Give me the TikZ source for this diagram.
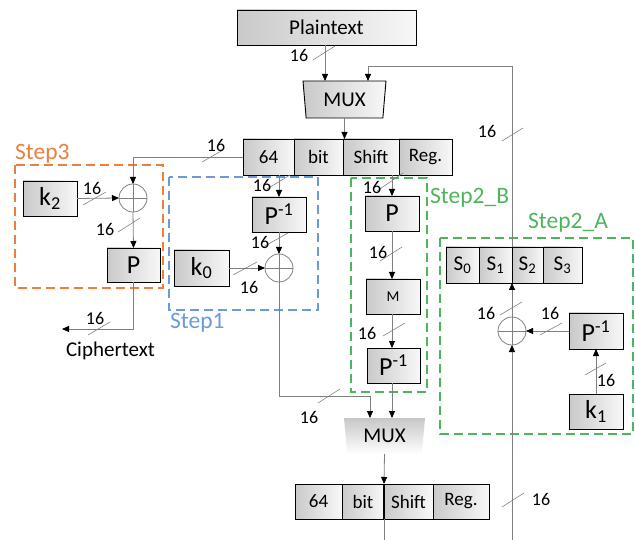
\documentclass[tikz,border=0pt]{standalone}
\usepackage{fontspec}
\setmainfont{Carlito}
\usetikzlibrary{arrows.meta,shapes.geometric}
\definecolor{stepor}{HTML}{E9803D}
\definecolor{stepbl}{HTML}{6A9BD8}
\definecolor{stepgr}{HTML}{4DB55A}
\begin{document}
\begin{tikzpicture}[x=1pt,y=-1pt,
  fs/.style={font=\fontsize{#1}{#1}\selectfont},
  blk/.style={draw=black, line width=0.9pt, left color=black!21, right color=black!3,
              inner sep=0pt, outer sep=0pt},
  cell/.style={blk, fs=19, minimum height=#1},
  wire/.style={draw=black!50, line width=0.8pt},
  arr/.style={wire, -{Triangle[length=7pt,width=6pt,color=black]}},
  tick/.style={draw=black!50, line width=0.6pt},
  num/.style={fs=18, inner sep=0pt},
  xorc/.style={circle, draw=black!50, line width=0.8pt, minimum size=28pt, inner sep=0pt,
    outer sep=0pt,
    path picture={\draw[black!50, line width=0.8pt]
      (path picture bounding box.north) -- (path picture bounding box.south)
      (path picture bounding box.west) -- (path picture bounding box.east);}},
  muxshape/.style={trapezium, trapezium left angle=77, trapezium right angle=77,
    shape border rotate=180, trapezium stretches body, inner sep=0pt, outer sep=0pt,
    fs=21},
  grp/.style={dash pattern=on 9pt off 5pt, line width=2.4pt},
  grplab/.style={fs=23.5, inner sep=0pt, anchor=west},
]
\useasboundingbox (0,0) rectangle (635,540);

% dashed groups of the three steps
\draw[grp, stepor] (15,165) rectangle (163,288);
\draw[grp, stepbl] (169,177) rectangle (318,310);
\draw[grp, stepgr] (351,178) rectangle (427,392);
\draw[grp, stepgr] (440,238) rectangle (633,434);
\node[grplab, text=stepor] (g3) at (15,154) {Step3};
\node[grplab, text=stepbl] (g1) at (170,323) {Step1};
\node[grplab, text=stepgr] (g2b) at (430,198) {Step2\_B};
\node[grplab, text=stepgr] (g2a) at (528,223) {Step2\_A};

% input and first register
\node[blk, fs=21, minimum width=179pt, minimum height=35pt] (plain) at (326.5,27.5) {Plaintext};
\node[muxshape, draw=black, line width=0.9pt, left color=black!21, right color=black!3,
      minimum width=83pt, minimum height=37pt] (mux1) at (344.5,99.5) {MUX};
\node[cell=36pt, minimum width=51pt] (r1a) at (268.5,157) {64};
\node[cell=36pt, minimum width=49pt] (r1b) at (318.5,157) {bit};
\node[cell=36pt, minimum width=56pt] (r1c) at (371,157) {Shift};
\node[cell=36pt, minimum width=53pt] (r1d) at (425.5,157) {Reg.};

% Step3
\node[blk, fs=26, minimum width=54pt, minimum height=35pt] (k2) at (50,198.5) {k\textsubscript{2}};
\node[xorc] (xor3) at (133,198) {};
\node[blk, fs=26, minimum width=53pt, minimum height=34pt] (p3) at (133.5,265) {P};
\coordinate (ctout) at (62,329);
\node[fs=21, inner sep=0pt] (ct) at (110.5,351) {Ciphertext};

% Step1
\node[blk, fs=26, minimum width=54pt, minimum height=35pt] (pi1) at (279,214.5) {P\textsuperscript{-1}};
\node[xorc] (xor1) at (279,268) {};
\node[blk, fs=26, minimum width=55pt, minimum height=36pt] (k0) at (201.5,268) {k\textsubscript{0}};

% Step2_B
\node[blk, fs=26, minimum width=54pt, minimum height=35pt] (pb) at (392,213.5) {P};
\node[blk, fs=15, minimum width=54pt, minimum height=35pt] (mm) at (393,296.5) {M};
\node[blk, fs=26, minimum width=53pt, minimum height=35pt] (pib) at (393.5,365.5) {P\textsuperscript{-1}};

% Step2_A
\node[cell=36pt, fs=21, minimum width=33pt] (s0) at (462.5,265) {S\textsubscript{0}};
\node[cell=36pt, fs=21, minimum width=33pt] (s1) at (495.5,265) {S\textsubscript{1}};
\node[cell=36pt, fs=21, minimum width=31pt] (s2) at (527.5,265) {S\textsubscript{2}};
\node[cell=36pt, fs=21, minimum width=39pt] (s3) at (562.5,265) {S\textsubscript{3}};
\node[xorc] (xor2) at (512,331) {};
\node[blk, fs=26, minimum width=54pt, minimum height=36pt] (pia) at (596,331) {P\textsuperscript{-1}};
\node[blk, fs=26, minimum width=54pt, minimum height=35pt] (k1) at (596,411.5) {k\textsubscript{1}};

% output multiplexer and second register
\node[muxshape, top color=black!22, bottom color=white,
      minimum width=81pt, minimum height=36pt] (mux2) at (384.5,436) {MUX};
\node[cell=35pt, minimum width=47pt] (r2a) at (318.5,501.5) {64};
\node[cell=35pt, minimum width=42pt] (r2b) at (363,501.5) {bit};
\node[cell=35pt, minimum width=49pt] (r2c) at (408.5,501.5) {Shift};
\node[cell=35pt, minimum width=56pt] (r2d) at (461,501.5) {Reg.};

% connection points
\coordinate (m1a) at (325,81);
\coordinate (m1b) at (368,81);
\coordinate (fbk) at (512,66);
\coordinate (bend) at (370,396);
\coordinate (m2a) at (370,418);
\coordinate (m2b) at (392,418);
\coordinate (bot1) at (384,540);
\coordinate (bot2) at (512,540);

% connectors
\draw[arr] (plain.south -| m1a) -- (m1a);
\draw[arr] (s1.north east) -- (fbk) -| (m1b);
\draw[arr] (mux1.south) -- (mux1.south |- r1b.north);
\draw[arr] (r1a.west) -| (xor3.north);
\draw[arr] (k2.east) -- (xor3.west);
\draw[arr] (xor3.south) -- (p3.north);
\draw[arr] (p3.south) |- (ctout);
\draw[arr] (pi1.north |- r1a.south) -- (pi1.north);
\draw[arr] (pi1.south) -- (xor1.north);
\draw[arr] (k0.east) -- (xor1.west);
\draw[arr] (xor1.south) |- (bend) -- (m2a);
\draw[arr] (pb.north |- r1c.south) -- (pb.north);
\draw[arr] (pb.south) -- (pb.south |- mm.north);
\draw[arr] (pb.south |- mm.south) -- (pb.south |- pib.north);
\draw[arr] (pb.south |- pib.south) -- (m2b);
\draw[arr] (bot2) -- (xor2.south);
\draw[arr] (xor2.north) -- (s1.south east);
\draw[arr] (pia.west) -- (xor2.east);
\draw[arr] (k1.north) -- (pia.south);
\draw[arr] (mux2.south) -- (r2b.north east);
\draw[black, line width=1.5pt] (r2b.north east) -- (r2b.south east);
\draw[wire] (r2b.south east) -- (bot1);

% bus-width marks
\draw[tick] (313,60) -- (335,46);   \node[num] (l1) at (299,55) {16};
\draw[tick] (502,141) -- (523,128); \node[num] (l2) at (487,131) {16};
\draw[tick] (202,162) -- (223,150); \node[num] (l3) at (216,145) {16};
\draw[tick] (83,205) -- (106,192);  \node[num] (l4) at (92,188) {16};
\draw[tick] (118,232) -- (140,218); \node[num] (l5) at (105,229) {16};
\draw[tick] (88,335) -- (110,322);  \node[num] (l6) at (95,318) {16};
\draw[tick] (267,189) -- (290,175); \node[num] (l7) at (262,185) {16};
\draw[tick] (263,247) -- (288,233); \node[num] (l8) at (260,242) {16};
\draw[tick] (233,275) -- (257,262); \node[num] (l9) at (249,287) {16};
\draw[tick] (318,403) -- (340,389); \node[num] (l10) at (309,417) {16};
\draw[tick] (377,191) -- (403,173); \node[num] (l11) at (372,187) {16};
\draw[tick] (380,261) -- (402,247); \node[num] (l12) at (378,252) {16};
\draw[tick] (383,336) -- (405,323); \node[num] (l13) at (367,333) {16};
\draw[tick] (500,315) -- (522,302); \node[num] (l14) at (486,313) {16};
\draw[tick] (540,335) -- (562,323); \node[num] (l15) at (550,313) {16};
\draw[tick] (585,375) -- (606,363); \node[num] (l16) at (606,380) {16};
\draw[tick] (502,507) -- (524,493); \node[num] (l17) at (541,499) {16};
\end{tikzpicture}
\end{document}
